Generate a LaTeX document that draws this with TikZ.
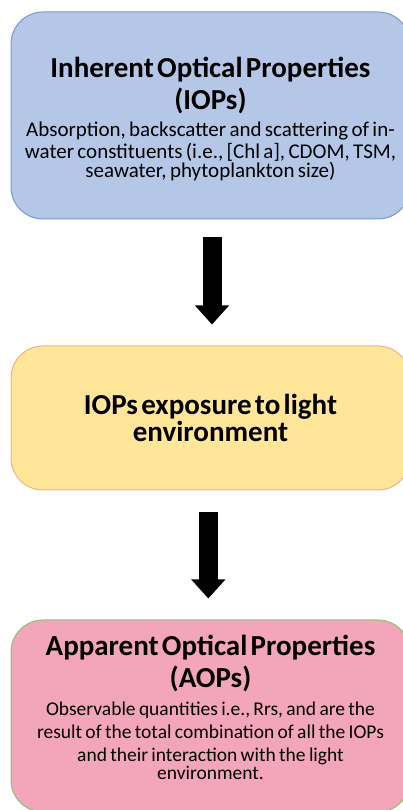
\documentclass[tikz,border=0pt]{standalone}
\usepackage{fontspec}
\setmainfont{Carlito}
\usetikzlibrary{arrows.meta}
\definecolor{iopfill}{HTML}{B4C7E7}
\definecolor{iopdraw}{HTML}{7A98CC}
\definecolor{expfill}{HTML}{FFE699}
\definecolor{expdraw}{HTML}{F4B183}
\definecolor{aopfill}{HTML}{F3A5BA}
\definecolor{aopdraw}{HTML}{8DC26F}
\tikzset{
  stagebox/.style={rounded corners=32pt, line width=1pt, minimum width=399pt,
    text width=385pt, align=center, inner sep=0pt},
  flowarrow/.style={line width=19pt, -{Triangle[length=19pt,width=33pt]}}
}
\newcommand{\headtext}{\bfseries\fontsize{29}{32}\selectfont}
\newcommand{\bodytext}[2]{\par\vspace{5pt}\fontsize{#1}{#2}\selectfont\mdseries}
\begin{document}
\begin{tikzpicture}[x=1pt,y=1pt]
      \useasboundingbox (0,0) rectangle (403,810);
      \node[stagebox, fill=iopfill, draw=iopdraw, minimum height=207pt] (iop)
        at (210.5,694.5) {\headtext
          \rule{0pt}{28pt}Inherent Optical Properties\\ (IOPs)
          \bodytext{21}{22}Absorption, backscatter and scattering of in-\\
          water constituents (i.e., [Chl a], CDOM, TSM,\\
          seawater, phytoplankton size)};
      \node[stagebox, fill=expfill, draw=expdraw, minimum height=144pt] (exp)
        at (210.5,392) {\headtext
          IOPs exposure to light\\ environment};
      \node[stagebox, fill=aopfill, draw=aopdraw, minimum height=192pt] (aop)
        at (210.5,94) {\headtext
          Apparent Optical Properties\\ (AOPs)
          \bodytext{19.5}{23}Observable quantities i.e., Rrs, and are the\\
          result of the total combination of all the IOPs\\
          and their interaction with the light\\
          environment.\rule[-18pt]{0pt}{0pt}};
      \begin{scope}[flowarrow]
        \draw[shorten <=18pt, shorten >=21pt]
          ([xshift=1.5pt]iop.south) to ([xshift=1.5pt]exp.north);
        \draw[shorten <=21.5pt, shorten >=21pt]
          ([xshift=-2.2pt]exp.south) to ([xshift=-2.2pt]aop.north);
      \end{scope}
    \end{tikzpicture}
\end{document}
